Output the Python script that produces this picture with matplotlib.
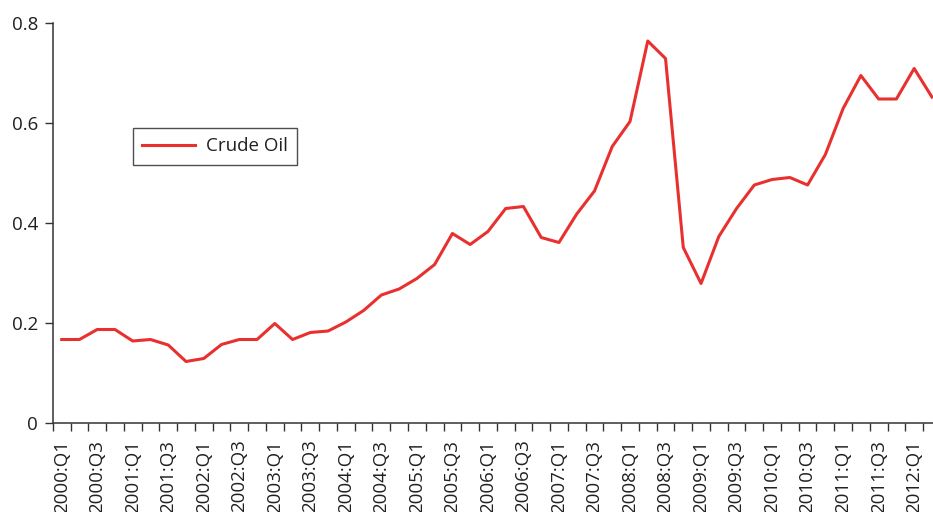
import numpy as np
from matplotlib import pyplot as plt

# quarterly values, 2000:Q1 .. 2012:Q2
crude_oil = [0.167, 0.167, 0.187, 0.187, 0.164, 0.167, 0.156, 0.123, 0.129, 0.157,
             0.167, 0.167, 0.199, 0.167, 0.181, 0.184, 0.202, 0.225, 0.256, 0.268,
             0.289, 0.317, 0.379, 0.357, 0.383, 0.429, 0.433, 0.371, 0.361, 0.418,
             0.464, 0.553, 0.603, 0.764, 0.729, 0.351, 0.279, 0.373, 0.429, 0.476,
             0.487, 0.491, 0.476, 0.537, 0.629, 0.695, 0.648, 0.648, 0.709, 0.652]

tick_labels = ["2000:Q1", "2000:Q3", "2001:Q1", "2001:Q3", "2002:Q1", "2002:Q3",
               "2003:Q1", "2003:Q3", "2004:Q1", "2004:Q3", "2005:Q1", "2005:Q3",
               "2006:Q1", "2006:Q3", "2007:Q1", "2007:Q3", "2008:Q1", "2008:Q3",
               "2009:Q1", "2009:Q3", "2010:Q1", "2010:Q3", "2011:Q1", "2011:Q3",
               "2012:Q1"]
y_ticks = [0, 0.2, 0.4, 0.6, 0.8]

plt.rcParams['font.family'] = ['Open Sans', 'DejaVu Sans']
txt = '#231f20'

fig = plt.figure(figsize=(9.33, 5.12), dpi=100)
# axes runs slightly past the right edge (chart is cropped there)
ax = fig.add_axes([52.8/933, 89/512, 888/933, 400/512])

n = len(crude_oil)
x = np.arange(n)
ax.plot(x, crude_oil, color='#e8312f', lw=2.2, label='Crude Oil')

ax.set_xlim(-0.5, n - 0.5)
ax.set_ylim(0, 0.8)

ax.set_yticks(y_ticks)
ax.set_yticklabels(['0', '0.2', '0.4', '0.6', '0.8'])

ax.set_xticks(x[::2])
ax.set_xticklabels(tick_labels, rotation=90)
ax.set_xticks(np.arange(n + 1) - 0.5, minor=True)
ax.tick_params(axis='x', which='major', length=0, pad=12)
ax.tick_params(axis='x', which='minor', length=5.5, width=1, color='#333333')
ax.tick_params(axis='y', length=5.5, width=1, color='#333333', pad=5)
ax.tick_params(labelsize=13.5, labelcolor=txt)

for s in ['top', 'right']:
    ax.spines[s].set_visible(False)
for s in ['left', 'bottom']:
    ax.spines[s].set_color('#333333')
    ax.spines[s].set_linewidth(1.1)

leg = ax.legend(loc='upper left', bbox_to_anchor=(133/933, 1 - 128/512),
                bbox_transform=fig.transFigure, fancybox=False, frameon=True,
                fontsize=13.5, handlelength=2.8, borderpad=0.5, handletextpad=0.6,
                borderaxespad=0)
leg.get_frame().set_edgecolor('#222222')
leg.get_frame().set_linewidth(1.0)
for t in leg.get_texts():
    t.set_color(txt)

fig.savefig('out.png', dpi=100)
